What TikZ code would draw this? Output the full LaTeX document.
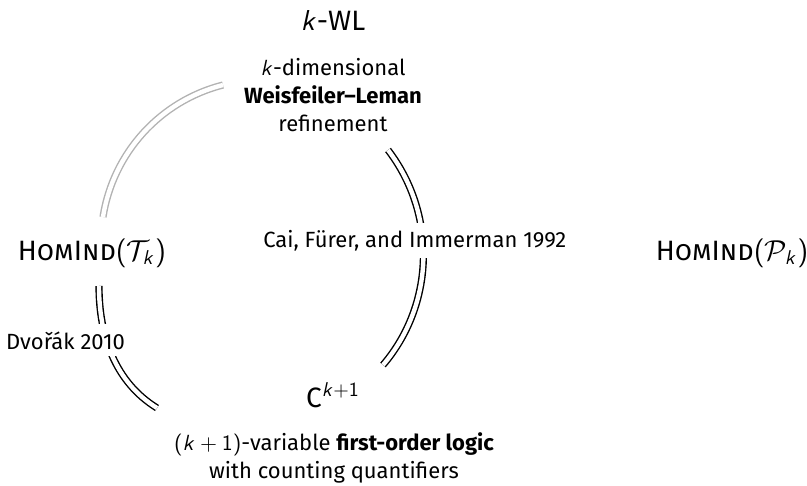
\documentclass[tikz,border=0pt]{standalone}
\usepackage[no-math]{fontspec}
\setmainfont{Fira Sans}
% sans-serif maths: upright digits and operators, slanted letters
\SetSymbolFont{operators}{normal}{OT1}{cmss}{m}{n}
\SetSymbolFont{operators}{bold}{OT1}{cmss}{bx}{n}
\DeclareSymbolFont{sfletters}{OT1}{cmss}{m}{sl}
\DeclareMathSymbol{k}{\mathalpha}{sfletters}{`k}
\begin{document}
\begin{tikzpicture}[x=0.5pt,y=-0.5pt,
  headline/.style={font=\fontsize{14}{17}\selectfont, inner sep=2pt},
  blurb/.style={align=center, font=\fontsize{11}{14}\selectfont, inner sep=2pt},
  equiv/.style={draw=black, line width=0.7pt, double=white, double distance=2.2pt},
  equiv gray/.style={equiv, draw=gray!60},
  cite/.style={fill=white, inner sep=3.5pt, font=\fontsize{11}{14}\selectfont}]
% canvas
\fill[white] (0,0) rectangle (807,486);
\useasboundingbox (0,0) rectangle (807,486);

% the characterisations (base = baseline of the last line)
\node[headline, anchor=base] (kwl) at (333,31) {$k$-WL};
\node[blurb, anchor=base] (kwld) at (333,132) {$k$-dimensional\\\textbf{Weisfeiler–Leman}\\refinement};
\node[headline, anchor=base] (T) at (92,260) {\textsc{HomInd}$(\mathcal{T}_k)$};
\node[headline, anchor=base] (P) at (732,260) {\textsc{HomInd}$(\mathcal{P}_k)$};
\node[headline, anchor=base] (C) at (333,407) {C$^{k+1}$};
\node[blurb, anchor=base] (Cd) at (334,478) {$(k+1)$-variable \textbf{first-order logic}\\with counting quantifiers};

% equivalences
\draw[equiv gray] ([shift={(-110,-47)}]kwld.base)
  .. controls +(-63,16) and +(10,-64) .. ([shift={(11,-43)}]T.base);
\draw[equiv] ([shift={(55,18)}]kwld.base)
  .. controls +(49,64) and +(52,-61) .. ([shift={(50,-42)}]C.base)
  node[cite, pos=0.42, xshift=-4pt] {Cai, Fürer, and Immerman 1992};
\draw[equiv] ([shift={(7,26)}]T.base)
  .. controls +(0,50) and +(-42,-26) .. ([shift={(-176,1)}]C.base)
  node[cite, pos=0.38, xshift=-20.5pt] {Dvořák 2010};
\end{tikzpicture}
\end{document}
